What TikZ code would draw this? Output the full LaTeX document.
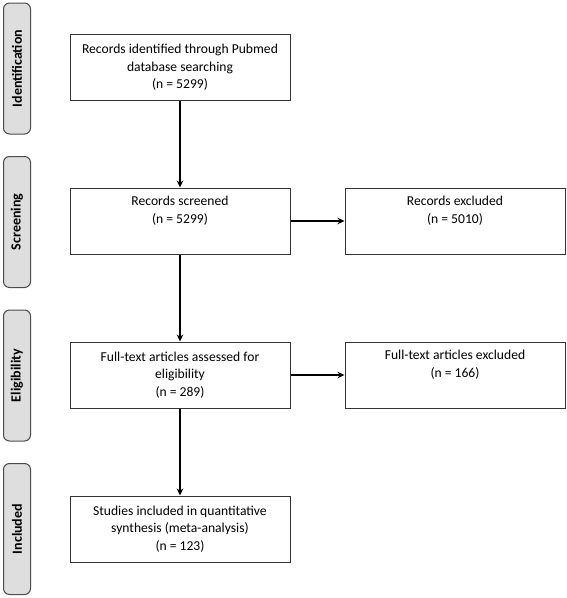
\documentclass[tikz,border=0pt]{standalone}
\usepackage{fontspec}
\setmainfont{Carlito}
\usetikzlibrary{arrows.meta}

\definecolor{phaselinecolor}{rgb}{0.300000, 0.300000, 0.300000}
\definecolor{phasefillcolor}{rgb}{0.870000, 0.870000, 0.870000}
\definecolor{boxlinecolor}{rgb}{0.200000, 0.200000, 0.200000}

\begin{document}
\begin{tikzpicture}[x=1pt,y=-1pt,
  flowbox/.style={draw=boxlinecolor,line width=1pt,minimum width=220pt,minimum height=66pt,
    inner sep=0pt,align=center,font=\fontsize{13.6}{17.5}\selectfont},
  phase/.style={draw=phaselinecolor,fill=phasefillcolor,rounded corners=6pt,line width=1pt,
    minimum width=131pt,minimum height=27pt,inner sep=0pt,rotate=90,
    font=\bfseries\fontsize{14}{16}\selectfont},
  flow/.style={line width=1.3pt,-{Stealth[length=7pt,width=6.5pt]}}]
\useasboundingbox (0,0) rectangle (567,598);
% phases on the left
\node[phase] (identification) at (17,68.5) {Identification};
\node[phase] (screening) at (17,222) {Screening};
\node[phase] (eligibility) at (17,375.5) {Eligibility};
\node[phase] (included) at (17,529) {Included};
% main column
\node[flowbox] (identified) at (180,67.5) {Records identified through Pubmed\\database searching\\(n = 5299)};
\node[flowbox] (screened) at (180,221) {Records screened\\(n = 5299)\\\strut};
\node[flowbox] (assessed) at (180,375) {Full-text articles assessed for\\eligibility\\(n = 289)};
\node[flowbox] (synthesis) at (180,529) {Studies included in quantitative\\synthesis (meta-analysis)\\(n = 123)};
% exclusions
\node[flowbox] (recexcluded) at (455,221) {Records excluded\\(n = 5010)\\\strut};
\node[flowbox] (artexcluded) at (455,375) {Full-text articles excluded\\(n = 166)\\\strut};
% arrows
\draw[flow] (identified) -- (screened);
\draw[flow] (screened) -- (assessed);
\draw[flow] (assessed) -- (synthesis);
\draw[flow] (screened) -- (recexcluded);
\draw[flow] (assessed) -- (artexcluded);
\end{tikzpicture}
\end{document}
